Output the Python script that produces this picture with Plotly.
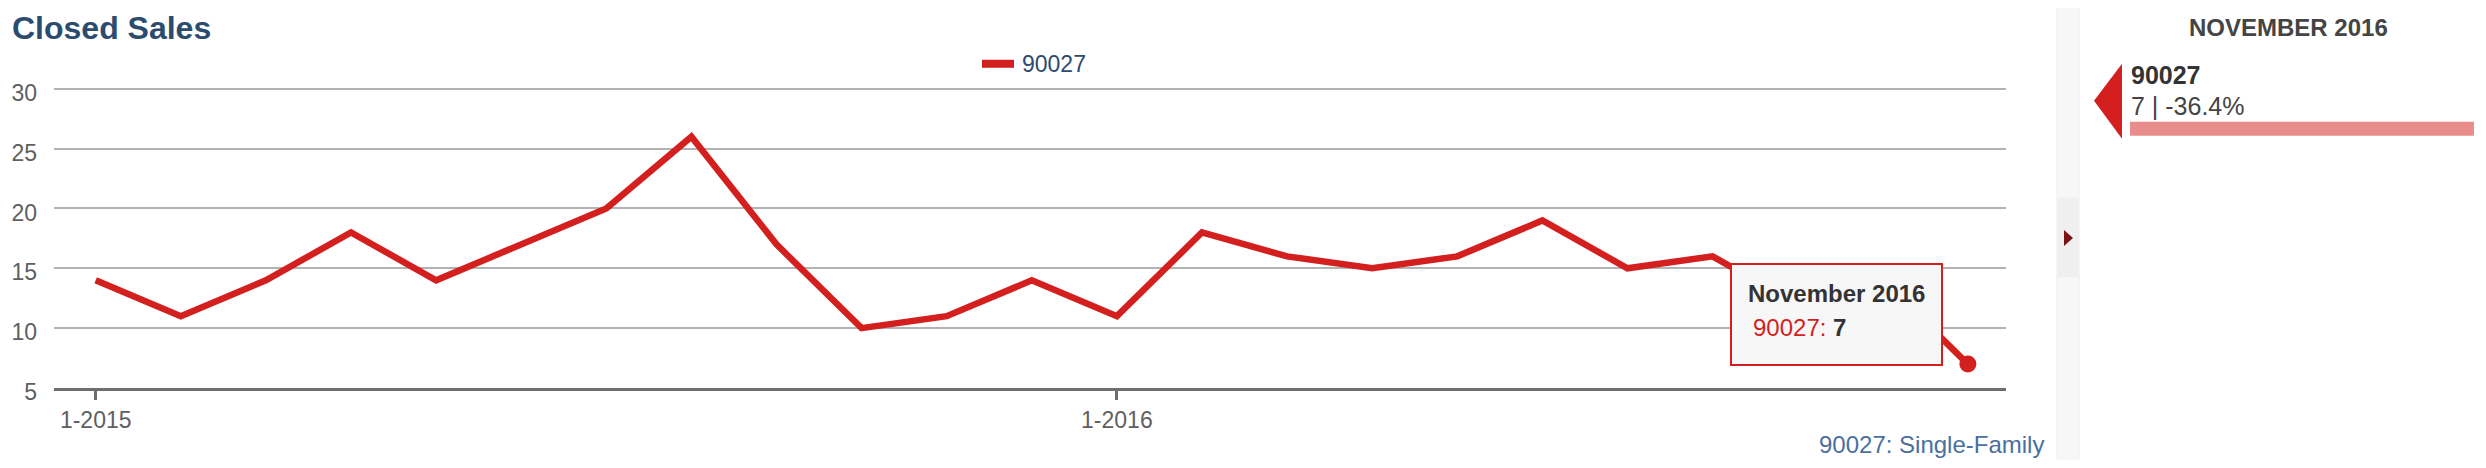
import plotly.graph_objects as go

# ---------------- data ----------------
months = ["Jan 2015", "Feb 2015", "Mar 2015", "Apr 2015", "May 2015", "Jun 2015",
          "Jul 2015", "Aug 2015", "Sep 2015", "Oct 2015", "Nov 2015", "Dec 2015",
          "Jan 2016", "Feb 2016", "Mar 2016", "Apr 2016", "May 2016", "Jun 2016",
          "Jul 2016", "Aug 2016", "Sep 2016", "Oct 2016", "Nov 2016"]
closed_sales = [14, 11, 14, 18, 14, 17, 20, 26, 17, 10, 11, 14,
                11, 18, 16, 15, 16, 19, 15, 16, 12, 14, 7]
series_name = "90027"
tick_vals = ["Jan 2015", "Jan 2016"]
tick_text = ["1-2015", "1-2016"]
y_ticks = [5, 10, 15, 20, 25, 30]
title_text = "Closed Sales"
footer_text = "90027: Single-Family"
panel_title = "NOVEMBER 2016"
tooltip_title = "November 2016"

RED = "#d41f1f"
FONT = "Liberation Sans, Arial, Helvetica, sans-serif"

# page has an 8px body margin: figure is sized to fit inside it
OFF = 8
W, H = 2486 - 2 * OFF, 468 - 2 * OFF
Y_MIN, Y_MAX = 5, 30.15
# plot area in screen pixels
L, R, B = 54, 2006, 388
T = 89 - (Y_MAX - 30) * (388 - 89) / 25


def px(x):
    return (x - L) / (R - L)


def py(y):
    return (B - y) / (B - T)


fig = go.Figure()
fig.add_trace(go.Scatter(
    x=months, y=closed_sales, mode="lines", name=series_name,
    line=dict(color=RED, width=6.5), hoverinfo="skip", showlegend=False))
fig.add_trace(go.Scatter(
    x=[months[-1]], y=[closed_sales[-1]], mode="markers", showlegend=False,
    marker=dict(color=RED, size=17), hoverinfo="skip"))

latest = closed_sales[-1]
yoy = (closed_sales[-1] / closed_sales[-13] - 1) * 100

shapes = [
    # legend symbol
    dict(type="line", xref="paper", yref="paper", x0=px(982), x1=px(1014),
         y0=py(64), y1=py(64), line=dict(color=RED, width=8)),
    # tooltip box
    dict(type="rect", xref="paper", yref="paper", x0=px(1731), x1=px(1942),
         y0=py(365), y1=py(264), fillcolor="#f7f7f7", line=dict(color=RED, width=2),
         layer="above"),
    # side strip
    dict(type="rect", xref="paper", yref="paper", x0=px(2057), x1=px(2079),
         y0=py(466), y1=py(7), fillcolor="#f7f7f7", line=dict(color="#ececec", width=1),
         layer="above"),
    dict(type="rect", xref="paper", yref="paper", x0=px(2057.5), x1=px(2078.5),
         y0=py(277), y1=py(198), fillcolor="#efefef", line=dict(width=0),
         layer="above"),
    dict(type="path", xref="paper", yref="paper",
         path=f"M {px(2064)},{py(230)} L {px(2073)},{py(238)} L {px(2064)},{py(246)} Z",
         fillcolor="#7b1515", line=dict(width=0), layer="above"),
    # red arrow in panel
    dict(type="path", xref="paper", yref="paper",
         path=f"M {px(2094)},{py(101)} L {px(2122)},{py(64)} L {px(2122)},{py(139)} Z",
         fillcolor=RED, line=dict(width=0), layer="above"),
    # pink bar
    dict(type="rect", xref="paper", yref="paper", x0=px(2130), x1=px(2474),
         y0=py(136), y1=py(122), fillcolor="#e98c8c", line=dict(width=0), layer="above"),
]

annotations = [
    dict(text=f"<b>{title_text}</b>", xref="paper", yref="paper", x=px(10), y=py(28),
         xanchor="left", yanchor="middle", showarrow=False,
         font=dict(size=32, color="#2b4b6f", family=FONT)),
    dict(text=series_name, xref="paper", yref="paper", x=px(1020), y=py(64),
         xanchor="left", yanchor="middle", showarrow=False,
         font=dict(size=23, color="#2b4b6f", family=FONT)),
    dict(text=f"<b>{tooltip_title}</b>", xref="paper", yref="paper", x=px(1746), y=py(294),
         xanchor="left", yanchor="middle", showarrow=False,
         font=dict(size=24, color="#333333", family=FONT)),
    dict(text=f"<span style='color:{RED}'>{series_name}: </span><b>{latest}</b>",
         xref="paper", yref="paper", x=px(1751), y=py(328),
         xanchor="left", yanchor="middle", showarrow=False,
         font=dict(size=24, color="#333333", family=FONT)),
    dict(text=footer_text, xref="paper", yref="paper", x=px(2046), y=py(444),
         xanchor="right", yanchor="middle", showarrow=False,
         font=dict(size=24, color="#4a6fa0", family=FONT)),
    dict(text=f"<b>{panel_title}</b>", xref="paper", yref="paper", x=px(2288), y=py(28),
         xanchor="center", yanchor="middle", showarrow=False,
         font=dict(size=24, color="#444444", family=FONT)),
    dict(text=f"<b>{series_name}</b>", xref="paper", yref="paper", x=px(2129), y=py(75),
         xanchor="left", yanchor="middle", showarrow=False,
         font=dict(size=25, color="#333333", family=FONT)),
    dict(text=f"{latest} | {yoy:.1f}%", xref="paper", yref="paper", x=px(2129), y=py(106),
         xanchor="left", yanchor="middle", showarrow=False,
         font=dict(size=25, color="#444444", family=FONT)),
]

fig.update_layout(
    width=W, height=H,
    margin=dict(l=L - OFF, r=W - (R - OFF), t=T - OFF, b=H - (B - OFF), pad=0,
                autoexpand=False),
    paper_bgcolor="white", plot_bgcolor="white",
    font=dict(family=FONT),
    showlegend=False,
    shapes=shapes,
    annotations=annotations,
    hovermode=False,
)

fig.update_xaxes(
    type="category", categoryorder="array", categoryarray=months,
    range=[-0.49, 22.448], automargin=False,
    tickmode="array", tickvals=tick_vals, ticktext=tick_text,
    ticks="outside", ticklen=9, tickwidth=3, tickcolor="#6e6e6e",
    showline=True, linecolor="#6e6e6e", linewidth=3,
    showgrid=False, zeroline=False,
    tickfont=dict(size=23, color="#606060", family=FONT),
    ticklabelstandoff=0,
)
fig.update_yaxes(
    range=[Y_MIN, Y_MAX], tickmode="array", tickvals=y_ticks, automargin=False,
    showgrid=True, gridcolor="#b3b3b3", gridwidth=2,
    zeroline=False, showline=False, ticks="",
    tickfont=dict(size=23, color="#606060", family=FONT),
    ticklabelstandoff=16, ticklabelshift=4,
)

fig.write_html("out.html")
